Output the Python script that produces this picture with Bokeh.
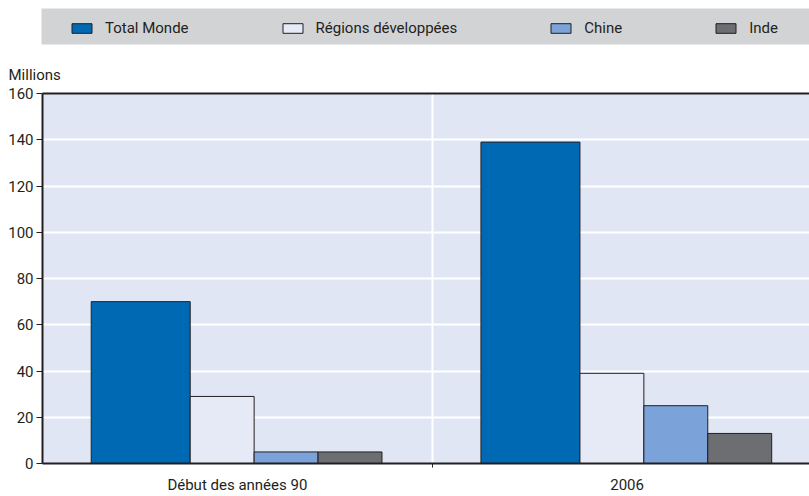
from bokeh.plotting import figure
from bokeh.models import (ColumnDataSource, Range1d, FixedTicker, LinearAxis, Legend,
                          LegendItem, BoxAnnotation, Label)
from bokeh.layouts import column
from bokeh.transform import dodge
from bokeh.embed import file_html
from bokeh.resources import INLINE

categories = ["Début des années 90", "2006"]
series_names = ["Total Monde", "Régions développées", "Chine", "Inde"]
total_monde = [70, 139]
regions_dev = [29, 39]
chine = [5, 25]
inde = [5, 13]
y_ticks = [0, 20, 40, 60, 80, 100, 120, 140, 160]

FONT = "Roboto"
FS = "15px"
DARK = "#231F20"

src = ColumnDataSource(dict(
    x=[i + 0.5 for i in range(len(categories))],
    total=total_monde, reg=regions_dev, chine=chine, inde=inde,
))

specs = [("total", -0.248, 0.254, "#0069B4"),
         ("reg", -0.039, 0.164, "#E6EAF7"),
         ("chine", 0.125, 0.164, "#7BA3D9"),
         ("inde", 0.289, 0.164, "#6D6E71")]

# ---------------- main chart ----------------
p = figure(width=809, height=416, output_backend="svg", toolbar_location=None,
           x_range=Range1d(0, 1.968), y_range=Range1d(0, 160),
           min_border_left=42, min_border_right=0, min_border_top=13, min_border_bottom=30,
           background_fill_color="#E0E6F4", border_fill_color="white")
p.outline_line_color = None

for col, off, w, color in specs:
    p.vbar(x=dodge("x", off, range=p.x_range), top=col, width=w, bottom=0, source=src,
           fill_color=color, line_color=DARK, line_width=1)

p.ygrid.ticker = FixedTicker(ticks=y_ticks)
p.ygrid.grid_line_color = "white"
p.ygrid.grid_line_width = 2
p.xgrid.ticker = FixedTicker(ticks=[1])
p.xgrid.grid_line_color = "white"
p.xgrid.grid_line_width = 2

ya = p.yaxis[0]
ya.ticker = FixedTicker(ticks=y_ticks)
ya.axis_line_color = DARK
ya.axis_line_width = 2
ya.major_tick_line_color = DARK
ya.major_tick_out = 6
ya.major_tick_in = 0
ya.minor_tick_line_color = None
ya.major_label_standoff = 3
ya.major_label_text_font = FONT
ya.major_label_text_font_size = FS
ya.major_label_text_color = DARK

xa = p.xaxis[0]
xa.ticker = FixedTicker(ticks=[i + 0.5 for i in range(len(categories))], minor_ticks=[1])
xa.major_label_overrides = {i + 0.5: c for i, c in enumerate(categories)}
xa.axis_line_color = DARK
xa.axis_line_width = 2
xa.major_tick_line_color = None
xa.minor_tick_line_color = DARK
xa.minor_tick_out = 4
xa.minor_tick_in = 0
xa.major_label_standoff = 6
xa.major_label_text_font = FONT
xa.major_label_text_font_size = FS
xa.major_label_text_color = DARK

top_axis = LinearAxis(ticker=FixedTicker(ticks=[]), axis_line_color=DARK, axis_line_width=2,
                      major_label_text_font_size="0px", major_tick_line_color=None,
                      minor_tick_line_color=None, major_label_standoff=0)
p.add_layout(top_axis, "above")

# ---------------- legend strip ----------------
h = figure(width=809, height=80, output_backend="svg", toolbar_location=None,
           x_axis_type=None, y_axis_type=None, min_border=0,
           background_fill_color="white", border_fill_color="white")
frame_left = 42
if hasattr(h, "frame_align"):
    h.frame_align = False
    frame_left = 0
h.x_range = Range1d(frame_left, 809)
h.y_range = Range1d(80, 0)
h.outline_line_color = None
h.grid.visible = False

band = BoxAnnotation(left=41, right=809, top=8, bottom=44,
                     fill_color="#D2D3D5", fill_alpha=1, line_color=None)
h.add_layout(band)

key_renderers = []
for col, off, w, color in specs:
    r = h.vbar(x="x", top=col, width=w, bottom=0, source=src,
               fill_color=color, line_color=DARK, line_width=1, visible=False)
    key_renderers.append(r)

legend = Legend(items=[LegendItem(label=n, renderers=[r]) for n, r in zip(series_names, key_renderers)],
                orientation="horizontal", location=(69 - frame_left, 43),
                background_fill_alpha=0, border_line_alpha=0, padding=0, margin=0,
                inactive_fill_alpha=0,
                spacing=91, glyph_width=25, glyph_height=12, label_height=12,
                label_standoff=11, label_text_font=FONT, label_text_font_size=FS,
                label_text_color=DARK)
h.add_layout(legend, "center")

h.add_layout(Label(x=8, y=74, text="Millions", text_font=FONT, text_font_size=FS,
                   text_color=DARK, text_baseline="alphabetic"))

open("out.html", "w").write(file_html(column(h, p, spacing=0), INLINE))
